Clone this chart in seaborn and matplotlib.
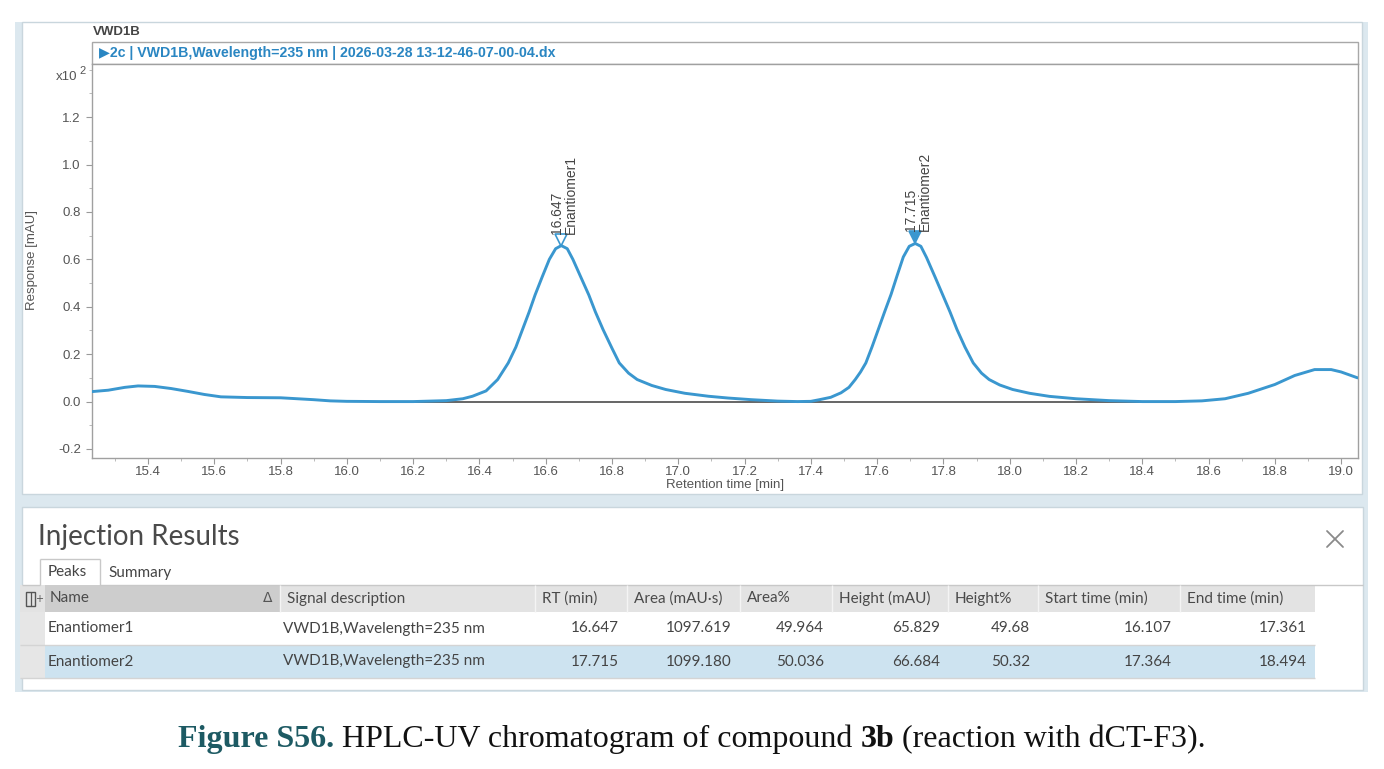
import numpy as np
import pandas as pd
import matplotlib
matplotlib.use("Agg")
import matplotlib.pyplot as plt
import matplotlib.patches as mpatches
import matplotlib.transforms as mtransforms
from matplotlib.ticker import MultipleLocator, FixedLocator, FormatStrFormatter
import seaborn as sns

# ---------------- data ----------------
time_min = [15.23, 15.28, 15.33, 15.37, 15.42, 15.47, 15.52, 15.57, 15.62, 15.70,
            15.80, 15.85, 15.90, 15.95, 16.00, 16.10, 16.20, 16.30, 16.35, 16.379,
            16.42, 16.455, 16.487, 16.51, 16.53, 16.55, 16.568, 16.59, 16.611, 16.63,
            16.647, 16.665, 16.682, 16.705, 16.73, 16.75, 16.773, 16.80, 16.822, 16.85,
            16.876, 16.92, 16.962, 17.02, 17.091, 17.15, 17.221, 17.30, 17.36, 17.40,
            17.426, 17.46, 17.491, 17.515, 17.534, 17.55, 17.566, 17.585, 17.604, 17.623,
            17.642, 17.66, 17.679, 17.697, 17.715, 17.732, 17.749, 17.775, 17.798, 17.82,
            17.841, 17.865, 17.89, 17.915, 17.938, 17.97, 18.009, 18.06, 18.12, 18.20,
            18.30, 18.40, 18.50, 18.58, 18.65, 18.72, 18.80, 18.86, 18.92, 18.97,
            19.00, 19.05]
response_x100 = [0.042, 0.048, 0.060, 0.066, 0.064, 0.055, 0.043, 0.030, 0.020, 0.017,
                 0.016, 0.012, 0.008, 0.003, 0.001, 0.000, 0.000, 0.004, 0.012, 0.0225,
                 0.045, 0.093, 0.163, 0.230, 0.304, 0.378, 0.450, 0.528, 0.600, 0.645,
                 0.658, 0.645, 0.600, 0.528, 0.450, 0.378, 0.304, 0.225, 0.163, 0.120,
                 0.093, 0.068, 0.051, 0.035, 0.0225, 0.015, 0.008, 0.002, 0.000, 0.001,
                 0.008, 0.018, 0.037, 0.060, 0.093, 0.125, 0.163, 0.232, 0.306, 0.380,
                 0.452, 0.530, 0.610, 0.655, 0.667, 0.655, 0.608, 0.525, 0.450, 0.378,
                 0.304, 0.230, 0.163, 0.120, 0.093, 0.070, 0.051, 0.035, 0.022, 0.012,
                 0.004, 0.000, 0.000, 0.003, 0.012, 0.035, 0.072, 0.110, 0.135, 0.135,
                 0.125, 0.100]

peak_names = ["Enantiomer1", "Enantiomer2"]
peak_signal = ["VWD1B,Wavelength=235 nm", "VWD1B,Wavelength=235 nm"]
peak_rt = [16.647, 17.715]
peak_area = [1097.619, 1099.180]
peak_area_pct = [49.964, 50.036]
peak_height = [65.829, 66.684]
peak_height_pct = [49.68, 50.32]
peak_start = [16.107, 17.364]
peak_end = [17.361, 18.494]

table_headers = ["Name", "Signal description", "RT (min)", "Area (mAU\u00b7s)", "Area%",
                 "Height (mAU)", "Height%", "Start time (min)", "End time (min)"]
x_tick_values = [15.4, 15.6, 15.8, 16.0, 16.2, 16.4, 16.6, 16.8, 17.0, 17.2,
                 17.4, 17.6, 17.8, 18.0, 18.2, 18.4, 18.6, 18.8, 19.0]
y_tick_values = [-0.2, 0.0, 0.2, 0.4, 0.6, 0.8, 1.0, 1.2]

detector = "VWD1B"
header_text = "\u25B62c | VWD1B,Wavelength=235 nm | 2026-03-28 13-12-46-07-00-04.dx"

# ---------------- style ----------------
sns.set_theme(style="white")
SANS = ['Liberation Sans Narrow', 'Liberation Sans', 'DejaVu Sans']
UI = ['Lato', 'Open Sans', 'DejaVu Sans']
plt.rcParams['font.family'] = SANS
plt.rcParams['axes.unicode_minus'] = False

CURVE = "#3a97cf"
GRAYTXT = "#555555"

W, H = 1384, 769
fig = plt.figure(figsize=(W / 100, H / 100), dpi=100)
fig.patch.set_facecolor("white")

bg = fig.add_axes([0, 0, 1, 1], zorder=0)
bg.set_xlim(0, W)
bg.set_ylim(H, 0)
bg.axis("off")


def rect(x0, y0, x1, y1, fc, ec="none", lw=0.0, z=1):
    bg.add_patch(mpatches.Rectangle((x0, y0), x1 - x0, y1 - y0, facecolor=fc,
                                    edgecolor=ec, linewidth=lw, zorder=z))


def hline(x0, x1, y, c, lw=1.0, z=3):
    bg.plot([x0, x1], [y, y], color=c, lw=lw, zorder=z, solid_capstyle="butt")


def vline(x, y0, y1, c, lw=1.0, z=3):
    bg.plot([x, x], [y0, y1], color=c, lw=lw, zorder=z, solid_capstyle="butt")


# panels
rect(15, 22, 1368, 692, "#dce8ef")
rect(22, 22, 1362, 494, "white", "#c9d6dd", 1)
rect(22, 507, 1363, 690, "white", "#c9d6dd", 1)

# chart header
bg.text(93, 32, detector, ha="left", va="center", fontsize=9.5, fontweight="bold",
        color="#444444", zorder=4)
rect(92, 42, 1358, 64, "white", "#a8a8a8", 1, z=2)
bg.text(99, 53.5, header_text, ha="left", va="center", fontsize=10.2, color="#2a86c2",
        fontweight="bold", zorder=4)
bg.text(77, 77, "x10", ha="right", va="center", fontsize=9.5, color=GRAYTXT, zorder=4)
bg.text(79, 71, "2", ha="left", va="center", fontsize=8, color=GRAYTXT, zorder=4)

# ---------------- chromatogram ----------------
ax = fig.add_axes([92 / W, 1 - 458 / H, (1358 - 92) / W, (458 - 64) / H], zorder=2)
ax.set_facecolor("white")
df = pd.DataFrame({"t": time_min, "r": response_x100})
sns.lineplot(data=df, x="t", y="r", ax=ax, color=CURVE, linewidth=2.1,
             estimator=None, sort=False, zorder=3)
ax.lines[-1].set_solid_joinstyle("round")

# integration baselines
for s, e in zip(peak_start, peak_end):
    ax.plot([s, e], [0, 0], color="#3c3c3c", lw=1.1, zorder=2)

# peak markers and labels
for i, (rt, h, nm) in enumerate(zip(peak_rt, peak_height, peak_names)):
    yv = h / 100.0
    tr = mtransforms.offset_copy(ax.transData, fig=fig, x=0, y=6, units="dots")
    ax.plot([rt], [yv], marker="v", ms=8, mec=CURVE, mew=1.2,
            mfc=("white" if i == 0 else CURVE), transform=tr, clip_on=False, zorder=4)
    ax.annotate(f"{rt:.3f}\n{nm}", xy=(rt, yv), xytext=(3, 12), textcoords="offset pixels",
                rotation=90, ha="center", va="bottom", multialignment="left",
                fontsize=10, color="#444444", linespacing=1.0, zorder=4)

ax.set_xlim(15.231, 19.051)
ax.set_ylim(-0.238, 1.424)
ax.xaxis.set_major_locator(FixedLocator(x_tick_values))
ax.xaxis.set_minor_locator(MultipleLocator(0.1))
ax.yaxis.set_major_locator(FixedLocator(y_tick_values))
ax.yaxis.set_minor_locator(MultipleLocator(0.1))
ax.xaxis.set_major_formatter(FormatStrFormatter("%.1f"))
ax.yaxis.set_major_formatter(FormatStrFormatter("%.1f"))
ax.tick_params(axis="both", which="major", direction="out", length=4, width=0.8,
               color="#9a9a9a", labelsize=9.5, labelcolor=GRAYTXT, pad=4)
ax.tick_params(axis="x", which="major", pad=2)
ax.tick_params(axis="both", which="minor", direction="out", length=2.5, width=0.6,
               color="#b0b0b0")
ax.tick_params(axis="x", which="both", bottom=True, top=False)
ax.tick_params(axis="y", which="both", left=True, right=False)
for sp in ax.spines.values():
    sp.set_color("#a0a0a0")
    sp.set_linewidth(1.0)
    sp.set_visible(True)
ax.set_xlabel("Retention time [min]", fontsize=9.5, color=GRAYTXT)
ax.set_ylabel("Response [mAU]", fontsize=9.5, color=GRAYTXT)
ax.xaxis.set_label_coords((725 - 92) / 1266, (458 - 479) / 394)
ax.yaxis.set_label_coords((38 - 92) / 1266, (458 - 260) / 394)

# ---------------- Injection Results table ----------------
bg.text(38, 537, "Injection Results", ha="left", va="center", fontsize=20,
        color="#4a4a4a", family=UI, zorder=4)
bg.plot([1327, 1343], [531, 547], color="#8a8a8a", lw=1.3, zorder=4)
bg.plot([1343, 1327], [531, 547], color="#8a8a8a", lw=1.3, zorder=4)

# tabs
hline(22, 40, 584.5, "#c8c8c8")
hline(100, 1363, 584.5, "#c8c8c8")
vline(40, 559, 585, "#c8c8c8")
vline(100, 559, 585, "#c8c8c8")
hline(40, 100, 559, "#c8c8c8")
bg.text(48, 572, "Peaks", ha="left", va="center", fontsize=11, color="#444444",
        family=UI, zorder=4)
bg.text(108, 573, "Summary", ha="left", va="center", fontsize=11, color="#444444",
        family=UI, zorder=4)

col_edges = [45, 280, 535, 627, 740, 832, 948, 1038, 1180, 1315]
hdr_top, hdr_bot = 585, 612
row_h = 33
TFS = 11
# header row
rect(20, hdr_top, 45, hdr_bot, "#e3e3e3", z=2)
rect(45, hdr_top, 280, hdr_bot, "#cdcdcd", z=2)
rect(280, hdr_top, 1315, hdr_bot, "#e3e3e3", z=2)
for xe in col_edges[1:-1]:
    vline(xe, hdr_top, hdr_bot, "#f4f4f4", lw=1.0)
# column chooser icon
rect(26, 592, 35, 606, "none", "#555555", 1.0, z=4)
vline(30.5, 592, 606, "#555555", lw=0.9, z=4)
bg.text(39, 599, "+", ha="center", va="center", fontsize=7, color="#555555", zorder=4,
        family=['DejaVu Sans'])
# header labels
hy = (hdr_top + hdr_bot) / 2
for j, lab in enumerate(table_headers):
    bg.text(col_edges[j] + (5 if j == 0 else 7), hy, lab, ha="left", va="center",
            fontsize=TFS, color="#4a4a4a", family=UI, zorder=4)
bg.text(268, hy, "\u0394", ha="center", va="center", fontsize=10, color="#555555",
        family=['DejaVu Sans'], zorder=4)

row_vals = list(zip(peak_names, peak_signal, peak_rt, peak_area, peak_area_pct,
                    peak_height, peak_height_pct, peak_start, peak_end))
fmts = [None, None, "{:.3f}", "{:.3f}", "{:.3f}", "{:.3f}", "{:.2f}", "{:.3f}", "{:.3f}"]
for i, vals in enumerate(row_vals):
    y0 = hdr_bot + i * row_h
    y1 = y0 + row_h
    rect(20, y0, 45, y1, "#e6e6e6", z=2)
    rect(45, y0, 1315, y1, "white" if i == 0 else "#cde3f0", z=2)
    hline(20, 1315, y1, "#d4d4d4", lw=1.0)
    cy = (y0 + y1) / 2
    for j, v in enumerate(vals):
        if fmts[j] is None:
            bg.text(col_edges[j] + 3, cy, v, ha="left", va="center",
                    fontsize=TFS, color="#444444", family=UI, zorder=4)
        else:
            bg.text(col_edges[j + 1] - 8, cy, fmts[j].format(v), ha="right", va="center",
                    fontsize=TFS, color="#444444", family=UI, zorder=4)

# ---------------- caption ----------------
SERIF = ['Liberation Serif', 'DejaVu Serif']
pieces = [("Figure S56.", "bold", "#1d5a63"),
          ("HPLC-UV chromatogram of compound", "normal", "#111111"),
          ("3b", "bold", "#111111"),
          ("(reaction with dCT-F3).", "normal", "#111111")]
cap_size = 23
renderer = fig.canvas.get_renderer()
txts = []
widths = []
for s, wgt, c in pieces:
    t = bg.text(0, 747, s, ha="left", va="baseline", fontsize=cap_size, fontweight=wgt,
                color=c, family=SERIF, zorder=4)
    txts.append(t)
    widths.append(t.get_window_extent(renderer=renderer).width)
gap = cap_size * 100 / 72 * 0.25
total = sum(widths) + gap * (len(widths) - 1)
x = 692 - total / 2
for t, w in zip(txts, widths):
    t.set_x(x)
    x += w + gap

fig.savefig("out.png", dpi=100, facecolor="white")
